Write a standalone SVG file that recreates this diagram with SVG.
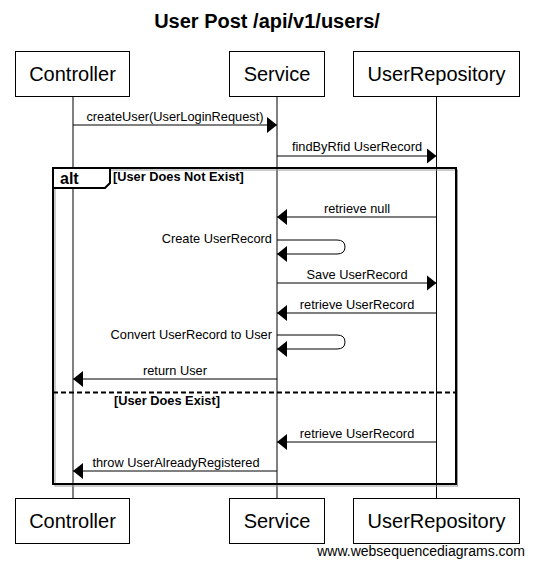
<svg xmlns="http://www.w3.org/2000/svg" width="534" height="567" viewBox="0 0 534 567">
<style>
  text { font-family: "Liberation Sans", Arial, sans-serif; fill: #000; }
  .title { font-size: 20px; font-weight: bold; text-anchor: middle; }
  .box { fill: #fff; stroke: #000; stroke-width: 1; }
  .boxlabel { font-size: 20px; text-anchor: middle; }
  .life { stroke: #000; stroke-width: 1; }
  .msg { stroke: #000; stroke-width: 1; fill: none; marker-end: url(#ah); }
  .mlabel { font-size: 12.8px; text-anchor: middle; }
  .slabel { font-size: 12.8px; text-anchor: end; }
  .frame { fill: none; stroke: #000; stroke-width: 2; }
  .shadow { fill: none; stroke: #999; stroke-width: 1; }
  .cond { font-size: 12.8px; font-weight: bold; }
  .altlabel { font-size: 16px; font-weight: bold; }
  .footer { font-size: 14px; text-anchor: end; }
</style>
<defs>
  <marker id="ah" markerUnits="userSpaceOnUse" markerWidth="10" markerHeight="16" refX="10" refY="8" orient="auto">
    <path d="M0,0 L10,8 L0,16 Z" fill="#000"/>
  </marker>
</defs>
<rect width="534" height="567" fill="#fff"/>
<text class="title" x="267" y="28">User Post /api/v1/users/</text>

<g id="lifelines">
  <line class="life" x1="73" y1="96" x2="73" y2="498"/>
  <line class="life" x1="277" y1="96" x2="277" y2="498"/>
  <line class="life" x1="436.5" y1="96" x2="436.5" y2="498"/>
</g>

<g id="alt-frame">
  <rect class="shadow" x="55" y="170" width="402.5" height="316"/>
  <rect class="frame" x="53" y="168" width="403" height="316"/>
  <path d="M53,168 H110 V183 L105,188 H53 Z" fill="#fff" stroke="#000" stroke-width="2"/>
  <text class="altlabel" x="60" y="184">alt</text>
  <text class="cond" x="113" y="181">[User Does Not Exist]</text>
  <line x1="53" y1="392.5" x2="456" y2="392.5" stroke="#000" stroke-width="2" stroke-dasharray="5,3"/>
  <text class="cond" x="114" y="405">[User Does Exist]</text>
</g>

<g id="connectors">
  <line class="msg" x1="73" y1="125" x2="277" y2="125"/>
  <text class="mlabel" x="175" y="121">createUser(UserLoginRequest)</text>

  <line class="msg" x1="277" y1="156" x2="436.5" y2="156"/>
  <text class="mlabel" x="357" y="151">findByRfid UserRecord</text>

  <line class="msg" x1="436.5" y1="217" x2="277" y2="217"/>
  <text class="mlabel" x="357" y="213">retrieve null</text>

  <path class="msg" d="M277,240 H337 Q345,240 345,247 Q345,254 337,254 H277"/>
  <text class="slabel" x="272" y="243">Create UserRecord</text>

  <line class="msg" x1="277" y1="283" x2="436.5" y2="283"/>
  <text class="mlabel" x="357" y="279">Save UserRecord</text>

  <line class="msg" x1="436.5" y1="313" x2="277" y2="313"/>
  <text class="mlabel" x="357" y="309">retrieve UserRecord</text>

  <path class="msg" d="M277,335 H337 Q345,335 345,342 Q345,349 337,349 H277"/>
  <text class="slabel" x="272" y="339">Convert UserRecord to User</text>

  <line class="msg" x1="277" y1="379" x2="73" y2="379"/>
  <text class="mlabel" x="175" y="375">return User</text>

  <line class="msg" x1="436.5" y1="442" x2="277" y2="442"/>
  <text class="mlabel" x="357" y="438">retrieve UserRecord</text>

  <line class="msg" x1="277" y1="471" x2="73" y2="471"/>
  <text class="mlabel" x="176" y="467">throw UserAlreadyRegistered</text>
</g>

<g id="controller-top">
  <rect class="box" x="15.5" y="51.5" width="114" height="45"/>
  <text class="boxlabel" x="72.5" y="81">Controller</text>
</g>
<g id="service-top">
  <rect class="box" x="229.5" y="51.5" width="95" height="45"/>
  <text class="boxlabel" x="277" y="81">Service</text>
</g>
<g id="userrepository-top">
  <rect class="box" x="353.5" y="51.5" width="166" height="45"/>
  <text class="boxlabel" x="436.5" y="81">UserRepository</text>
</g>
<g id="controller-bottom">
  <rect class="box" x="15.5" y="498.5" width="114" height="45"/>
  <text class="boxlabel" x="72.5" y="528">Controller</text>
</g>
<g id="service-bottom">
  <rect class="box" x="229.5" y="498.5" width="95" height="45"/>
  <text class="boxlabel" x="277" y="528">Service</text>
</g>
<g id="userrepository-bottom">
  <rect class="box" x="353.5" y="498.5" width="166" height="45"/>
  <text class="boxlabel" x="436.5" y="528">UserRepository</text>
</g>

<text class="footer" x="525" y="556">www.websequencediagrams.com</text>
</svg>
